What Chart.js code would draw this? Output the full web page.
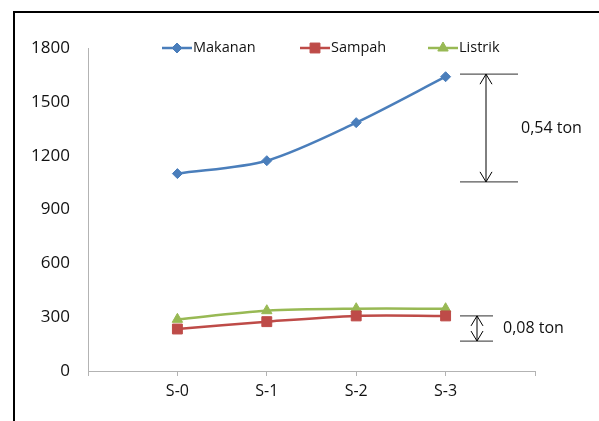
<!DOCTYPE html>
<html>
<head>
<meta charset="utf-8">
<script src="https://cdn.jsdelivr.net/npm/chart.js@4"></script>
<style>
  html, body { margin: 0; padding: 0; background: #fff; }
  #wrap { position: relative; width: 599px; height: 421px; }
  #frame { position: absolute; left: 13px; top: 11px; right: -5px; bottom: -5px;
           border-left: 2px solid #000; border-top: 2px solid #000; pointer-events: none; }
</style>
</head>
<body>
<div id="wrap">
  <canvas id="chart" width="599" height="421"></canvas>
  <div id="frame"></div>
</div>
<script>
// categories and series
var categories = ["S-0", "S-1", "S-2", "S-3"];
var makanan = [1100, 1172, 1384, 1640];
var sampah = [234, 275, 307, 307];
var listrik = [288, 336, 347, 347];
var yTicks = [0, 300, 600, 900, 1200, 1500, 1800];

// bracket annotations: [top value, bottom value, label]
var bracketBig = [1654, 1054, "0,54 ton"];
var bracketSmall = [307, 167, "0,08 ton"];

var blue = "#4a7ebb", red = "#be4b48", green = "#98b954";
var font = "'Open Sans', sans-serif";
var textColor = "#111";

// an empty slot on each side, like the original axis
var labels = [""].concat(categories, [""]);
function pad(arr) { return [null].concat(arr, [null]); }

var legendItems = [
  {text: "Makanan", color: blue, style: "rectRot", r: 5, x: 162},
  {text: "Sampah", color: red, style: "rect", r: 7, x: 300},
  {text: "Listrik", color: green, style: "triangle", r: 6, x: 428}
];

var extras = {
  id: "extras",
  afterDraw: function(chart) {
    var ctx = chart.ctx;
    var y = chart.scales.y;
    ctx.save();
    // legend
    legendItems.forEach(function(it) {
      ctx.strokeStyle = it.color;
      ctx.fillStyle = it.color;
      ctx.lineWidth = 2.5;
      ctx.beginPath();
      ctx.moveTo(it.x, 48);
      ctx.lineTo(it.x + 30, 48);
      ctx.stroke();
      ctx.lineWidth = 1;
      Chart.helpers.drawPoint(ctx, {pointStyle: it.style, radius: it.r, rotation: 0, borderWidth: 1}, it.x + 15, 48);
      ctx.fillStyle = textColor;
      ctx.font = "14.5px " + font;
      ctx.textBaseline = "middle";
      ctx.textAlign = "left";
      ctx.fillText(it.text, it.x + 31, 48);
    });
    // brackets
    function bracket(b, x1, x2, ax, tx) {
      var t = y.getPixelForValue(b[0]), bt = y.getPixelForValue(b[1]);
      ctx.strokeStyle = "#595959";
      ctx.lineWidth = 1.2;
      ctx.beginPath();
      ctx.moveTo(x1, t); ctx.lineTo(x2, t);
      ctx.moveTo(x1, bt); ctx.lineTo(x2, bt);
      ctx.stroke();
      ctx.strokeStyle = "#000";
      ctx.lineWidth = 1;
      ctx.beginPath();
      ctx.moveTo(ax, t); ctx.lineTo(ax, bt);
      ctx.moveTo(ax - 6, t + 10); ctx.lineTo(ax, t); ctx.lineTo(ax + 6, t + 10);
      ctx.moveTo(ax - 6, bt - 10); ctx.lineTo(ax, bt); ctx.lineTo(ax + 6, bt - 10);
      ctx.stroke();
      ctx.fillStyle = textColor;
      ctx.font = "16px " + font;
      ctx.textBaseline = "middle";
      ctx.textAlign = "left";
      ctx.fillText(b[2], tx, (t + bt) / 2);
    }
    bracket(bracketBig, 460, 518, 486, 521);
    bracket(bracketSmall, 460, 493, 477, 503);
    ctx.restore();
  }
};

new Chart("chart", {
  type: "line",
  data: {
    labels: labels,
    datasets: [{
      label: "Makanan", data: pad(makanan),
      borderColor: blue, backgroundColor: blue,
      pointStyle: "rectRot", pointRadius: 5
    }, {
      label: "Sampah", data: pad(sampah),
      borderColor: red, backgroundColor: red,
      pointStyle: "rect", pointRadius: 7
    }, {
      label: "Listrik", data: pad(listrik),
      borderColor: green, backgroundColor: green,
      pointStyle: "triangle", pointRadius: 6
    }]
  },
  options: {
    responsive: false,
    animation: false,
    events: [],
    elements: {
      line: {borderWidth: 2.5, tension: 0.3, fill: false},
      point: {borderWidth: 1, hoverRadius: 5}
    },
    layout: {padding: {left: 0, top: 48, right: 64, bottom: 0}},
    plugins: {legend: {display: false}, tooltip: {enabled: false}},
    scales: {
      x: {
        offset: false,
        grid: {drawOnChartArea: false, drawTicks: true, tickLength: 5, color: "#b3b3b3"},
        border: {color: "#b3b3b3", width: 1},
        ticks: {color: textColor, font: {family: font, size: 16}, padding: 6, maxRotation: 0, autoSkip: false},
        afterFit: function(s) { s.height = 50; }
      },
      y: {
        min: 0, max: 1800,
        afterBuildTicks: function(s) { s.ticks = yTicks.map(function(v) { return {value: v}; }); },
        grid: {drawOnChartArea: false, drawTicks: false},
        border: {color: "#b3b3b3", width: 1},
        ticks: {color: textColor, font: {family: font, size: 17}, padding: 18,
                callback: function(v) { return String(v); }},
        afterFit: function(s) { s.width = 88; }
      }
    }
  },
  plugins: [extras]
});
</script>
</body>
</html>
